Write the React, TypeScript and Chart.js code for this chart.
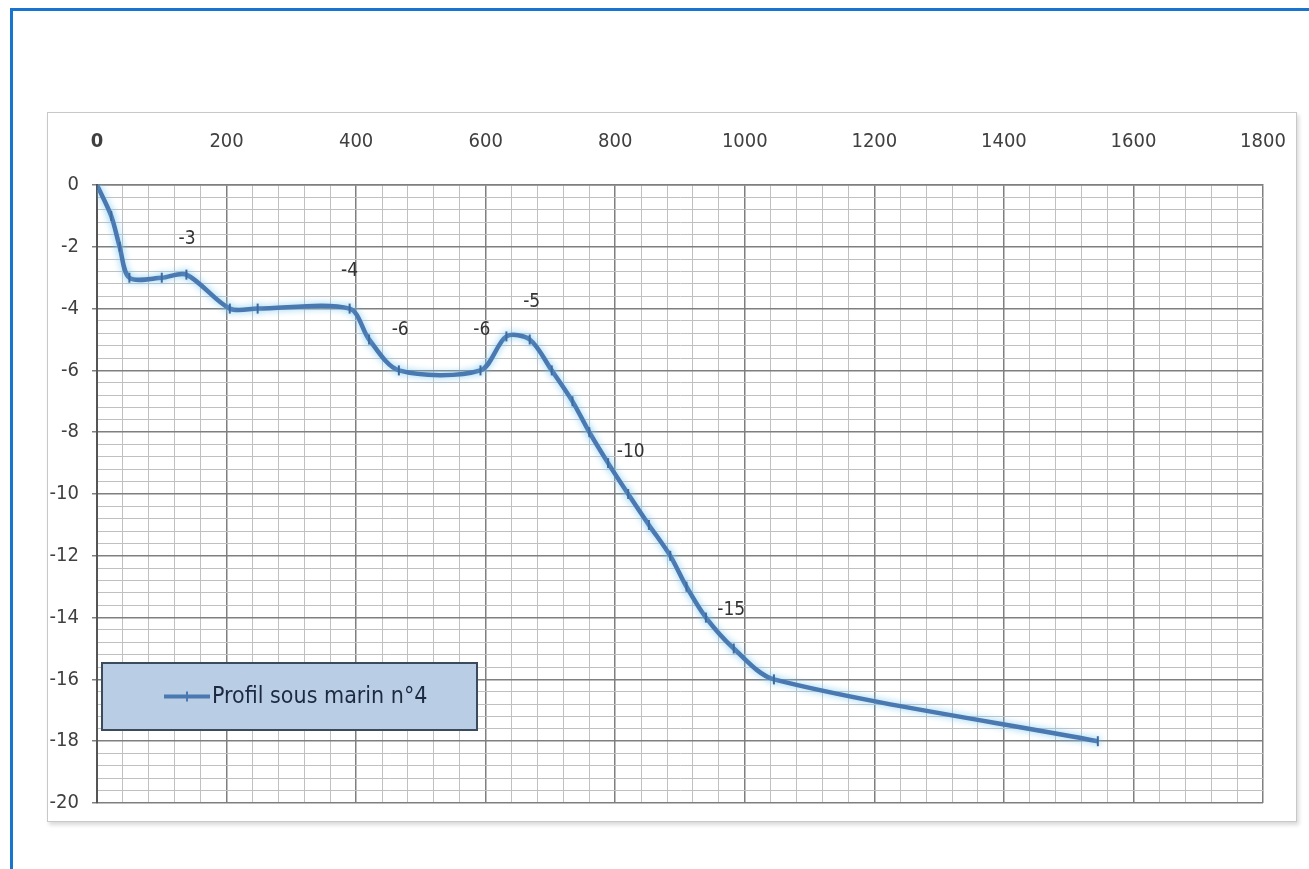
import React, { useEffect, useRef } from "react";
import { Chart, registerables } from "chart.js";

Chart.register(...registerables);

// Distance (m) and depth (m) of the submarine profile
const distances = [0, 22, 35, 50, 100, 138, 205, 248, 390, 420, 466, 592, 632, 668, 702, 734, 760, 789, 820, 852, 885, 910, 940, 983, 1045, 1545];
const depths = [0, -1, -2, -3, -3, -2.9, -4, -4, -4, -5, -6, -6, -4.9, -5, -6, -7, -8, -9, -10, -11, -12, -13, -14, -15, -16, -18];

// Annotation labels placed in data units
const labelTexts = ["-3", "-4", "-6", "-6", "-5", "-10", "-15"];
const labelXs = [139, 390, 468, 594, 671, 824, 979];
const labelYs = [-1.75, -2.8, -4.7, -4.7, -3.8, -8.65, -13.75];

const seriesName = "Profil sous marin n°4";
const xMin = 0, xMax = 1800, xMajor = 200, xMinor = 40;
const yMin = -20, yMax = 0, yMajor = 2, yMinor = 0.4;

const FONT = "'Liberation Sans Narrow', 'DejaVu Sans Condensed', 'Liberation Sans', sans-serif";
const LINE_COLOR = "#4a78b0";

const isMajor = (v: number, step: number) => Math.abs(v / step - Math.round(v / step)) < 1e-6;

export default function App() {
  const ref = useRef<HTMLCanvasElement | null>(null);

  useEffect(() => {
    if (!ref.current) return;

    const glow = {
      id: "glow",
      beforeDatasetDraw(chart: any) {
        const c = chart.ctx;
        c.save();
        c.shadowColor = "rgba(120,200,240,0.9)";
        c.shadowBlur = 7;
      },
      afterDatasetDraw(chart: any) {
        chart.ctx.restore();
      },
    };

    const annotations = {
      id: "annotations",
      afterDatasetsDraw(chart: any) {
        const c = chart.ctx;
        const xs = chart.scales.x, ys = chart.scales.y;
        c.save();
        c.font = `19px ${FONT}`;
        c.fillStyle = "#333333";
        c.textAlign = "center";
        c.textBaseline = "middle";
        labelTexts.forEach((t, i) => {
          c.fillText(t, xs.getPixelForValue(labelXs[i]), ys.getPixelForValue(labelYs[i]));
        });
        c.restore();
      },
    };

    const boxLegend = {
      id: "boxLegend",
      afterDraw(chart: any) {
        const c = chart.ctx;
        const a = chart.chartArea;
        const x = a.left + 5, y = a.top + 478, w = 375, h = 67;
        c.save();
        c.fillStyle = "#b9cde5";
        c.fillRect(x, y, w, h);
        c.lineWidth = 2;
        c.strokeStyle = "#3b4a5c";
        c.strokeRect(x, y, w, h);
        const cy = y + h / 2;
        c.strokeStyle = LINE_COLOR;
        c.lineWidth = 4;
        c.beginPath();
        c.moveTo(x + 62, cy);
        c.lineTo(x + 108, cy);
        c.stroke();
        c.lineWidth = 2;
        c.beginPath();
        c.moveTo(x + 85, cy - 5);
        c.lineTo(x + 85, cy + 5);
        c.stroke();
        c.fillStyle = "#1c2a40";
        c.font = `23px ${FONT}`;
        c.textAlign = "left";
        c.textBaseline = "middle";
        c.fillText(chart.data.datasets[0].label, x + 110, cy + 1);
        c.restore();
      },
    };

    const chart = new Chart(ref.current, {
      type: "line",
      data: {
        datasets: [
          {
            label: seriesName,
            data: distances.map((d, i) => ({ x: d, y: depths[i] })),
            borderColor: LINE_COLOR,
            backgroundColor: LINE_COLOR,
            borderWidth: 4.5,
            tension: 0.3,
            pointStyle: "line",
            rotation: 90,
            pointRadius: 5,
            pointBorderWidth: 2,
            pointBorderColor: "#3f6aa0",
          },
        ],
      },
      options: {
        responsive: false,
        animation: false,
        layout: { padding: { left: 47, top: 112, right: 46, bottom: 66 } },
        plugins: { legend: { display: false }, tooltip: { enabled: false } },
        scales: {
          x: {
            type: "linear",
            position: "top",
            min: xMin,
            max: xMax,
            afterFit: (s: any) => { s.height = 73; s.paddingLeft = 0; s.paddingRight = 0; },
            ticks: {
              stepSize: xMinor,
              autoSkip: false,
              maxRotation: 0,
              padding: 31,
              color: "#404040",
              font: (ctx: any) => ({ family: FONT, size: 20, weight: ctx.tick && ctx.tick.value === 0 ? "bold" : "normal" }),
              callback: (v: any) => (isMajor(Number(v), xMajor) ? String(v) : ""),
            },
            grid: {
              drawTicks: false,
              color: (ctx: any) => (ctx.tick && isMajor(ctx.tick.value, xMajor) ? "#7f7f7f" : "#c0c0c0"),
              lineWidth: (ctx: any) => (ctx.tick && isMajor(ctx.tick.value, xMajor) ? 1.5 : 1),
            },
            border: { display: true, color: "#7f7f7f", width: 1.5 },
          },
          y: {
            type: "linear",
            min: yMin,
            max: yMax,
            afterFit: (s: any) => { s.width = 50; s.paddingTop = 0; s.paddingBottom = 0; },
            ticks: {
              stepSize: yMinor,
              autoSkip: false,
              padding: 13,
              color: "#404040",
              font: { family: FONT, size: 20 },
              callback: (v: any) => (isMajor(Number(v), yMajor) ? String(Math.round(Number(v))) : ""),
            },
            grid: {
              tickLength: 5,
              color: (ctx: any) => (ctx.tick && isMajor(ctx.tick.value, yMajor) ? "#7f7f7f" : "#c0c0c0"),
              tickColor: (ctx: any) => (ctx.tick && isMajor(ctx.tick.value, yMajor) ? "#7f7f7f" : "rgba(0,0,0,0)"),
              lineWidth: (ctx: any) => (ctx.tick && isMajor(ctx.tick.value, yMajor) ? 1.5 : 1),
            },
            border: { display: true, color: "#555555", width: 2 },
          },
        },
      },
      plugins: [glow, annotations, boxLegend],
    } as any);

    return () => chart.destroy();
  }, []);

  return (
    <div style={{ position: "absolute", left: 0, top: 0, width: 1309, height: 869, overflow: "hidden", background: "#ffffff" }}>
      <div style={{ position: "absolute", left: 10, top: 8, width: 1400, height: 1000, borderLeft: "3px solid #1874cd", borderTop: "3px solid #1874cd" }} />
      <div style={{ position: "absolute", left: 47, top: 112, width: 1248, height: 708, border: "1px solid #c8c8c8", boxShadow: "2px 3px 4px rgba(0,0,0,0.15)", background: "#ffffff" }} />
      <canvas ref={ref} width={1309} height={869} style={{ position: "absolute", left: 0, top: 0 }} />
    </div>
  );
}
